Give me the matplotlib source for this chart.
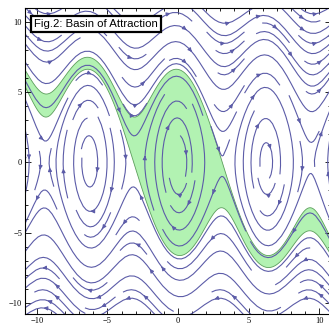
import numpy as np
import matplotlib
matplotlib.use("Agg")
import matplotlib.pyplot as plt
from matplotlib.ticker import MultipleLocator, FixedLocator

# ---- model / data ----
gravity = 9.8          # restoring strength  (y' = -g sin x - c y)
damping = 0.18         # damping coefficient
x_ticks = [-10, -5, 0, 5, 10]
y_ticks = [-10, -5, 0, 5, 10]
tick_labels = ["\u221210", "\u22125", "0", "5", "10"]
title_text = "Fig.2: Basin of Attraction"
xlim = (-10.85, 10.85)
ylim = (-10.8, 11.0)

def field(x, y):
    return y, -gravity * np.sin(x) - damping * y

def manifold(x0, y0, direction, n=40000, dt=0.0015):
    lam_s = (-damping - np.sqrt(damping**2 + 4 * gravity)) / 2
    v = np.array([1.0, lam_s]) / np.hypot(1.0, lam_s)
    p = np.array([x0, y0]) + direction * 1e-4 * v
    pts = [p.copy()]
    def f(q):
        u, w = field(q[0], q[1])
        return -np.array([u, w])  # backward in time
    for _ in range(n):
        k1 = f(p); k2 = f(p + dt / 2 * k1); k3 = f(p + dt / 2 * k2); k4 = f(p + dt * k3)
        p = p + dt / 6 * (k1 + 2 * k2 + 2 * k3 + k4)
        pts.append(p.copy())
        if abs(p[0]) > 11.5 or abs(p[1]) > 13:
            break
    return np.array(pts)

fig = plt.figure(figsize=(3.29, 3.25), dpi=100)
ax = fig.add_axes([25 / 329, 11 / 325, 306 / 329, 306 / 325])

# basin of attraction of (0,0): bounded by stable manifolds of saddles at +-pi
A = manifold(-np.pi, 0.0, -1)[::-1]
B = manifold(-np.pi, 0.0, +1)
C = manifold(np.pi, 0.0, +1)[::-1]
D = manifold(np.pi, 0.0, -1)
poly = np.vstack([A, B, C, D])
ax.fill(poly[:, 0], poly[:, 1], facecolor="#b2f2b2", edgecolor="#5c9e5c",
        linewidth=0.6, zorder=1)

xs = np.linspace(-11, 11, 220)
ys = np.linspace(-11, 11.2, 220)
X, Y = np.meshgrid(xs, ys)
U, V = field(X, Y)
ax.streamplot(X, Y, U, V, density=1.2, color="#5c5ca8", linewidth=0.8,
              arrowsize=0.55, zorder=2)

ax.set_xlim(*xlim)
ax.set_ylim(*ylim)
ax.xaxis.set_major_locator(FixedLocator(x_ticks))
ax.yaxis.set_major_locator(FixedLocator(y_ticks))
ax.set_xticklabels(tick_labels)
ax.set_yticklabels(tick_labels)
ax.xaxis.set_minor_locator(MultipleLocator(1))
ax.yaxis.set_minor_locator(MultipleLocator(1))
ax.tick_params(which="both", direction="in", top=True, right=True,
               labelsize=6, pad=2, width=0.6)
ax.tick_params(which="major", length=4)
ax.tick_params(which="minor", length=2)
for lab in ax.get_xticklabels() + ax.get_yticklabels():
    lab.set_fontfamily("Liberation Serif")
for s in ax.spines.values():
    s.set_linewidth(0.8)

ax.text(34 / 329, 1 - 24 / 325, title_text, transform=fig.transFigure,
        fontsize=8.2, family="Liberation Sans", va="center", ha="left",
        zorder=5,
        bbox=dict(boxstyle="square,pad=0.3", facecolor="white",
                  edgecolor="black", linewidth=1.6))

fig.savefig("out.png", dpi=100)
